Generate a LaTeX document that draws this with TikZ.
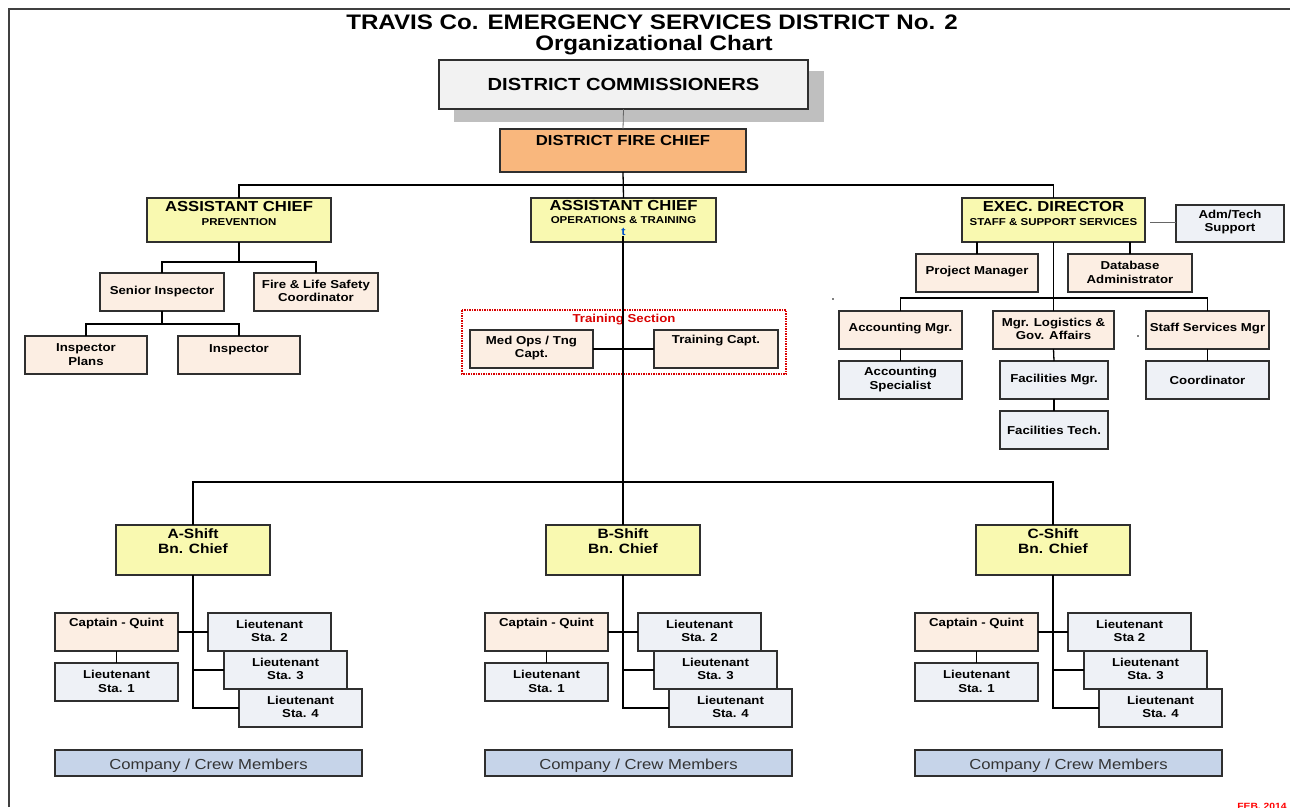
\documentclass[tikz,border=0pt]{standalone}
\usepackage{fontspec}
\setmainfont{Liberation Sans}[FakeStretch=1.15]
\definecolor{yel}{HTML}{F9F9B0}
\definecolor{pch}{HTML}{FCEEE3}
\definecolor{blu}{HTML}{EEF1F6}
\definecolor{org}{HTML}{F9B77D}
\definecolor{crw}{HTML}{C6D4E9}
\definecolor{bord}{HTML}{2F2F2F}
\newcommand\fsz[2]{\fontsize{#1}{#2}\selectfont}
\newcommand\bx[6]{\node[#1, minimum width={((#5)-(#3))*1pt}, minimum height={((#6)-(#4))*1pt}] (#2) at ({((#3)+(#5))/2},{((#4)+(#6))/2}) {};}
\tikzset{
  box/.style={draw=bord, line width=1.5pt, inner sep=0pt, outer sep=0pt},
  ybox/.style={box, fill=yel},
  pbox/.style={box, fill=pch},
  bbox/.style={box, fill=blu},
  lbl/.style={inner sep=0pt, align=center, font=\bfseries\fsz{11.5}{13.5}},
  big/.style={lbl, font=\bfseries\fsz{14.5}{16}},
  sub/.style={lbl, font=\bfseries\fsz{10}{12}},
  con/.style={line width=1.3pt, black},
}
\begin{document}
\begin{tikzpicture}[x=1pt,y=-1pt]
\useasboundingbox (0,0) rectangle (1290,807);
\clip (0,0) rectangle (1290,807);
\fill[white] (0,0) rectangle (1290,807);
% frame
\draw[line width=2.5pt, black!75] (9,807) -- (9,9) -- (1295,9);
% title
\node[inner sep=0pt, font=\bfseries\fsz{21}{23}] (title1) at (652,22) {TRAVIS Co. EMERGENCY SERVICES DISTRICT No. 2};
\node[inner sep=0pt, font=\bfseries\fsz{21}{23}] (title2) at (654,45) {Organizational Chart};
% commissioners
\fill[black!25] (454,71) rectangle (824,122);
\bx{box, fill=black!5}{comm}{439}{60}{808}{109}
\node[lbl, font=\bfseries\fsz{17.5}{19}] (comm-t) at (623.5,84) {DISTRICT COMMISSIONERS};
\bx{box, fill=org}{chief}{500}{129}{746}{172}
\node[big] (chief-t) at (623,141) {DISTRICT FIRE CHIEF};
\draw[line width=0.8pt, black!60] (comm.south) -- (chief.north);
% level 2
\bx{ybox}{prev}{147}{198}{331}{242}
\node[big] (prev-t1) at (239,207) {ASSISTANT CHIEF};
\node[sub] (prev-t2) at (239,222) {PREVENTION};
\bx{ybox}{ops}{531}{198}{716}{242}
\node[big] (ops-t1) at (623.5,206) {ASSISTANT CHIEF};
\node[sub] (ops-t2) at (623.5,220) {OPERATIONS \& TRAINING};
\node[lbl, font=\bfseries\fsz{11}{12}, text=blue!60!cyan!80!black] (ops-t3) at (623.5,232) {t};
\bx{ybox}{exec}{962}{198}{1145}{242}
\node[big] (exec-t1) at (1053.5,207) {EXEC. DIRECTOR};
\node[sub] (exec-t2) at (1053.5,222) {STAFF \& SUPPORT SERVICES};
\bx{bbox}{adm}{1176}{205}{1284}{242}
\node[lbl] (adm-t) at (1230,222) {Adm/Tech\\Support};
\coordinate (busT) at (623,185);
\draw[con] (prev.north) -- (prev.north |- busT) -- (exec.north |- busT) -- (exec.north);
\draw[con] (chief.south) -- (ops.north);
\draw[line width=0.8pt, black!60] ([xshift=5pt]exec.east |- 0,222) -- (adm.west |- 0,222);
% prevention branch
\bx{pbox}{senior}{100}{273}{224}{311}
\node[lbl] (senior-t) at (162,292) {Senior Inspector};
\bx{pbox}{fls}{254}{273}{378}{311}
\node[lbl] (fls-t) at (316,291) {Fire \& Life Safety\\Coordinator};
\bx{pbox}{iplans}{25}{336}{147}{374}
\node[lbl] (iplans-t) at (86,354.5) {Inspector\\Plans};
\bx{pbox}{insp}{178}{336}{300}{374}
\node[lbl] (insp-t) at (239,350) {Inspector};
\coordinate (busP) at (0,262);
\coordinate (busI) at (0,324);
\draw[con] (prev.south) -- (prev.south |- busP);
\draw[con] (senior.north) -- (senior.north |- busP) -- (fls.north |- busP) -- (fls.north);
\draw[con] (senior.south) -- (senior.south |- busI);
\draw[con] (iplans.north) -- (iplans.north |- busI) -- (insp.north |- busI) -- (insp.north);
% training section
\draw[red!85!black, line width=1.5pt, densely dotted] (462,310) rectangle (786,374);
\node[lbl, text=red!85!black] (trsec-t) at (624,320) {Training Section};
\bx{pbox}{medops}{470}{330}{593}{368}
\node[lbl] (medops-t) at (531.5,348) {Med Ops / Tng\\Capt.};
\bx{pbox}{trcapt}{654}{330}{778}{368}
\node[lbl] (trcapt-t) at (716,341) {Training Capt.};
\draw[con] (medops.east) -- (trcapt.west);
% exec branch
\bx{pbox}{pm}{916}{254}{1038}{292}
\node[lbl] (pm-t) at (977,272) {Project Manager};
\bx{pbox}{dba}{1068}{254}{1192}{292}
\node[lbl] (dba-t) at (1130,272.5) {Database\\Administrator};
\bx{pbox}{acct}{839}{311}{962}{349}
\node[lbl] (acct-t) at (900.5,329) {Accounting Mgr.};
\bx{pbox}{logi}{993}{311}{1114}{349}
\node[lbl] (logi-t) at (1053.5,329) {Mgr. Logistics \&\\Gov. Affairs};
\bx{pbox}{ssm}{1146}{311}{1269}{349}
\node[lbl] (ssm-t) at (1207.5,329) {Staff Services Mgr};
\bx{bbox}{accsp}{839}{361}{962}{399}
\node[lbl] (accsp-t) at (900.5,379.5) {Accounting\\Specialist};
\bx{bbox}{facm}{1000}{361}{1108}{399}
\node[lbl] (facm-t) at (1054,380) {Facilities Mgr.};
\bx{bbox}{fact}{1000}{411}{1108}{449}
\node[lbl] (fact-t) at (1054,430) {Facilities Tech.};
\bx{bbox}{coord}{1146}{361}{1269}{399}
\node[lbl] (coord-t) at (1207.5,380) {Coordinator};
\coordinate (busE) at (0,298);
\draw[con] (exec.south) -- (logi.north);
\draw[con] (acct.north) -- (acct.north |- busE) -- (ssm.north |- busE) -- (ssm.north);
\draw[con] (pm.north) -- (pm.north |- exec.south);
\draw[con] (dba.north) -- (dba.north |- exec.south);
\draw[con] (acct.south) -- (accsp.north);
\draw[con] (logi.south) -- (facm.north);
\draw[con] (facm.south) -- (fact.north);
\draw[con] (ssm.south) -- (coord.north);
\fill[black] (833,299) circle (0.9);
\fill[black] (1138,336) circle (0.9);
% shifts
\foreach \d/\L/\s in {0/A/Sta. 2, 430/B/Sta. 2, 860/C/Sta 2}{
  \bx{ybox}{sh\L}{116+\d}{525}{270+\d}{575}
  \node[lbl, font=\bfseries\fsz{13.5}{15}] (sh\L-t) at ({193+\d},541.5) {\L-Shift\\Bn. Chief};
  \bx{pbox}{cap\L}{55+\d}{613}{178+\d}{651}
  \node[lbl] (cap\L-t) at ({116.5+\d},624) {Captain - Quint};
  \bx{bbox}{lta\L}{55+\d}{663}{178+\d}{701}
  \node[lbl] (lta\L-t) at ({116.5+\d},681.5) {Lieutenant\\Sta. 1};
  \bx{bbox}{ltb\L}{208+\d}{613}{331+\d}{651}
  \node[lbl] (ltb\L-t) at ({269.5+\d},631) {Lieutenant\\\s};
  \bx{bbox}{ltc\L}{224+\d}{651}{347+\d}{689}
  \node[lbl] (ltc\L-t) at ({285.5+\d},669) {Lieutenant\\Sta. 3};
  \bx{bbox}{ltd\L}{239+\d}{689}{362+\d}{727}
  \node[lbl] (ltd\L-t) at ({300.5+\d},707) {Lieutenant\\Sta. 4};
  \bx{box, fill=crw}{crew\L}{55+\d}{750}{362+\d}{776}
  \node[inner sep=0pt, font=\fsz{14.5}{16}, text=black!80] (crew\L-t) at ({208.5+\d},766) {Company / Crew Members};
  \draw[con] (sh\L.south) -- (sh\L.south |- ltd\L.west) -- (ltd\L.west);
  \draw[con] (cap\L.east) -- (ltb\L.west);
  \draw[con] (sh\L.south |- ltc\L.west) -- (ltc\L.west);
  \draw[con] (cap\L.south) -- (lta\L.north);
}
\coordinate (busS) at (623,482);
\coordinate (opsln) at (623,236);
\draw[con] (opsln) -- (shB.north);
\draw[con] (shA.north) -- (shA.north |- busS) -- (shC.north |- busS) -- (shC.north);
\node[inner sep=0pt, anchor=north, font=\bfseries\fsz{9}{10}, text=red] (feb) at (1262,803) {FEB. 2014};
\end{tikzpicture}
\end{document}
